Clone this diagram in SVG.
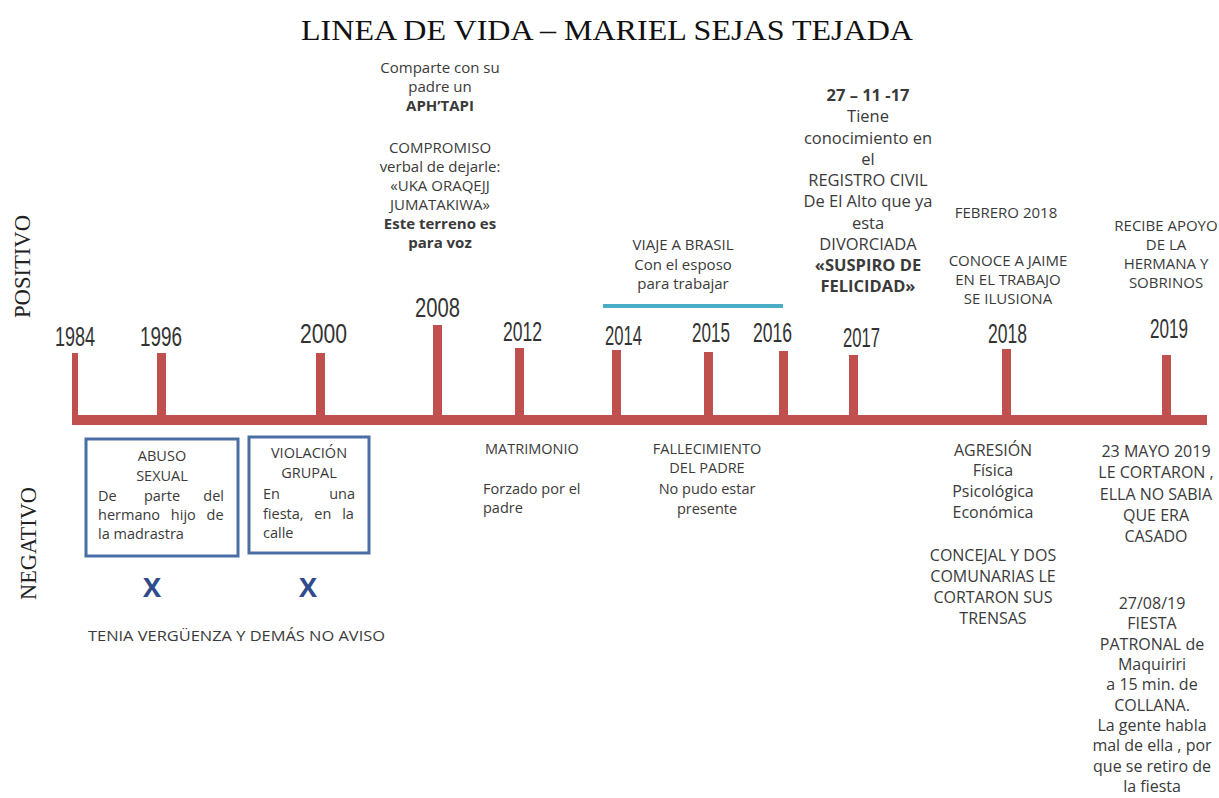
<svg xmlns="http://www.w3.org/2000/svg" width="1219" height="798" viewBox="0 0 1219 798">
<style>
.t{font-family:"Open Sans","Liberation Sans",sans-serif;fill:#3a3a3a;text-anchor:middle;font-size:14.5px}
.l{text-anchor:start}
.r{text-anchor:end}
.b{font-weight:bold}
.f15{font-size:15px}
.f16{font-size:16px}
.f17{font-size:16.5px}
.yr{font-family:"Liberation Sans",sans-serif;font-size:27px;fill:#333}
.side{font-family:"Liberation Serif","Times New Roman",serif;font-size:23px;fill:#222;text-anchor:middle}
.bar{fill:#c0504d}
.box{fill:#fff;stroke:#4a6fa5;stroke-width:3}
.x{font-family:"Open Sans","Liberation Sans",sans-serif;font-weight:bold;font-size:27px;fill:#2f4b8c;text-anchor:middle}
</style>
<rect width="1219" height="798" fill="#fff"/>
<text x="607" y="40" font-family="Liberation Serif,serif" font-size="30" fill="#111" text-anchor="middle" textLength="612" lengthAdjust="spacingAndGlyphs">LINEA DE VIDA – MARIEL SEJAS TEJADA</text>
<text class="side" transform="translate(30,266.5) rotate(-90)" textLength="103" lengthAdjust="spacingAndGlyphs">POSITIVO</text>
<text class="side" transform="translate(36,543.5) rotate(-90)" textLength="113" lengthAdjust="spacingAndGlyphs">NEGATIVO</text>
<g id="connectors">
<rect class="bar" x="72" y="415" width="1135" height="10"/>
<rect class="bar" x="72" y="353" width="6" height="64"/>
<rect class="bar" x="157" y="353" width="9" height="64"/>
<rect class="bar" x="316" y="353" width="9" height="64"/>
<rect class="bar" x="433" y="325" width="9" height="92"/>
<rect class="bar" x="515" y="348" width="9" height="69"/>
<rect class="bar" x="612" y="350" width="9" height="67"/>
<rect class="bar" x="704" y="352" width="9" height="65"/>
<rect class="bar" x="779" y="351" width="9" height="66"/>
<rect class="bar" x="849" y="355" width="9" height="62"/>
<rect class="bar" x="1002" y="349" width="9" height="68"/>
<rect class="bar" x="1162" y="355" width="9" height="62"/>
<rect x="603" y="304" width="180" height="4" fill="#4bacc6"/>
</g>
<g id="years">
<text class="yr" x="55" y="346" textLength="40" lengthAdjust="spacingAndGlyphs">1984</text>
<text class="yr" x="140" y="346" textLength="42" lengthAdjust="spacingAndGlyphs">1996</text>
<text class="yr" x="300" y="343" textLength="47" lengthAdjust="spacingAndGlyphs">2000</text>
<text class="yr" x="415" y="317" textLength="45" lengthAdjust="spacingAndGlyphs">2008</text>
<text class="yr" x="503" y="341" textLength="39" lengthAdjust="spacingAndGlyphs">2012</text>
<text class="yr" x="605" y="345" textLength="37" lengthAdjust="spacingAndGlyphs">2014</text>
<text class="yr" x="692" y="342" textLength="38" lengthAdjust="spacingAndGlyphs">2015</text>
<text class="yr" x="753" y="342" textLength="39" lengthAdjust="spacingAndGlyphs">2016</text>
<text class="yr" x="843" y="347" textLength="37" lengthAdjust="spacingAndGlyphs">2017</text>
<text class="yr" x="988" y="343" textLength="39" lengthAdjust="spacingAndGlyphs">2018</text>
<text class="yr" x="1150" y="338" textLength="38" lengthAdjust="spacingAndGlyphs">2019</text>
</g>
<g id="n1996">
<rect class="box" x="86" y="439" width="152" height="117"/>
<text class="t" x="162" y="461">ABUSO</text>
<text class="t" x="162" y="481">SEXUAL</text>
<text class="t l" x="98" y="501">De</text>
<text class="t" x="162" y="501">parte</text>
<text class="t r" x="224" y="501">del</text>
<text class="t l" x="98" y="520" word-spacing="7">hermano hijo de</text>
<text class="t l" x="98" y="539">la madrastra</text>
<text class="x" x="152" y="597">X</text>
</g>
<g id="n2000">
<rect class="box" x="249" y="437" width="120" height="116"/>
<text class="t" x="309" y="458">VIOLACIÓN</text>
<text class="t" x="309" y="478">GRUPAL</text>
<text class="t l" x="263" y="499">En</text>
<text class="t r" x="355" y="499">una</text>
<text class="t l" x="263" y="519" word-spacing="7">fiesta, en la</text>
<text class="t l" x="263" y="538">calle</text>
<text class="x" x="308" y="597">X</text>
</g>
<g id="nota">
<text class="t l f15" x="88" y="641" textLength="297" lengthAdjust="spacingAndGlyphs">TENIA VERGÜENZA Y DEMÁS NO AVISO</text>
</g>
<g id="n2008">
<text class="t f15" x="440" y="73">Comparte con su</text>
<text class="t f15" x="440" y="92">padre  un</text>
<text class="t f15 b" x="440" y="111">APH’TAPI</text>
<text class="t f15" x="440" y="153">COMPROMISO</text>
<text class="t f15" x="440" y="172">verbal  de dejarle:</text>
<text class="t f15" x="440" y="191">«UKA ORAQEJJ</text>
<text class="t f15" x="440" y="210">JUMATAKIWA»</text>
<text class="t f15 b" x="440" y="229">Este terreno es</text>
<text class="t f15 b" x="440" y="248">para voz</text>
</g>
<g id="n2012">
<text class="t l" x="485" y="454">MATRIMONIO</text>
<text class="t l" x="483" y="494">Forzado por el</text>
<text class="t l" x="483" y="513">padre</text>
</g>
<g id="n2014">
<text class="t f15" x="683" y="250">VIAJE A BRASIL</text>
<text class="t f15" x="683" y="270">Con el esposo</text>
<text class="t f15" x="683" y="289">para trabajar</text>
</g>
<g id="n2015">
<text class="t" x="707" y="454">FALLECIMIENTO</text>
<text class="t" x="707" y="473">DEL PADRE</text>
<text class="t" x="707" y="494">No pudo estar</text>
<text class="t" x="707" y="514">presente</text>
</g>
<g id="n2017">
<text class="t f17 b" x="868" y="101">27 – 11 -17</text>
<text class="t f17" x="868" y="122">Tiene</text>
<text class="t f17" x="868" y="144">conocimiento  en</text>
<text class="t f17" x="868" y="165">el</text>
<text class="t f17" x="868" y="186">REGISTRO CIVIL</text>
<text class="t f17" x="868" y="207">De El Alto que ya</text>
<text class="t f17" x="868" y="229">esta</text>
<text class="t f17" x="868" y="250">DIVORCIADA</text>
<text class="t f17 b" x="868" y="271">«SUSPIRO DE</text>
<text class="t f17 b" x="868" y="292">FELICIDAD»</text>
</g>
<g id="n2018">
<text class="t f15" x="1006" y="218">FEBRERO 2018</text>
<text class="t f15" x="1008" y="266">CONOCE  A JAIME</text>
<text class="t f15" x="1008" y="285">EN EL TRABAJO</text>
<text class="t f15" x="1008" y="304">SE ILUSIONA</text>
<text class="t f16" x="993" y="456">AGRESIÓN</text>
<text class="t f16" x="993" y="476">Física</text>
<text class="t f16" x="993" y="497">Psicológica</text>
<text class="t f16" x="993" y="518">Económica</text>
<text class="t f16" x="993" y="561">CONCEJAL Y DOS</text>
<text class="t f16" x="993" y="582">COMUNARIAS  LE</text>
<text class="t f16" x="993" y="603">CORTARON SUS</text>
<text class="t f16" x="993" y="624">TRENSAS</text>
</g>
<g id="n2019">
<text class="t f15" x="1166" y="231">RECIBE APOYO</text>
<text class="t f15" x="1166" y="250">DE LA</text>
<text class="t f15" x="1166" y="269">HERMANA  Y</text>
<text class="t f15" x="1166" y="288">SOBRINOS</text>
<text class="t f16" x="1156" y="457">23 MAYO 2019</text>
<text class="t f16" x="1156" y="478">LE CORTARON ,</text>
<text class="t f16" x="1156" y="500">ELLA NO SABIA</text>
<text class="t f16" x="1156" y="521">QUE ERA</text>
<text class="t f16" x="1156" y="542">CASADO</text>
<text class="t f16" x="1152" y="609">27/08/19</text>
<text class="t f16" x="1152" y="629">FIESTA</text>
<text class="t f16" x="1152" y="650">PATRONAL de</text>
<text class="t f16" x="1152" y="670">Maquiriri</text>
<text class="t f16" x="1152" y="690">a 15 min.  de</text>
<text class="t f16" x="1152" y="711">COLLANA.</text>
<text class="t f16" x="1152" y="731">La gente habla</text>
<text class="t f16" x="1152" y="751">mal de ella , por</text>
<text class="t f16" x="1152" y="772">que se retiro de</text>
<text class="t f16" x="1152" y="792">la fiesta</text>
</g>
</svg>
